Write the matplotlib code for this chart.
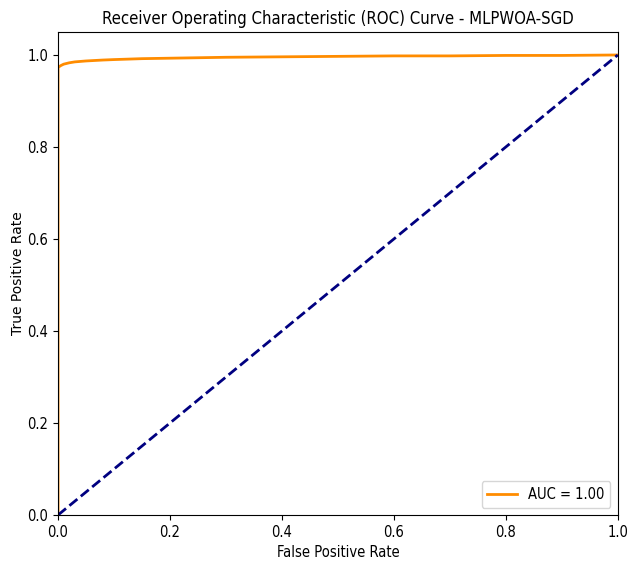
import matplotlib
matplotlib.use("Agg")
import matplotlib.pyplot as plt

# ROC points
fpr = [0.0, 0.0, 0.005, 0.01, 0.02, 0.03, 0.05, 0.08, 0.1, 0.15, 0.2, 0.3,
       0.4, 0.5, 0.6, 0.7, 0.8, 0.9, 1.0]
tpr = [0.0, 0.973, 0.977, 0.980, 0.983, 0.985, 0.987, 0.989, 0.990, 0.992,
       0.993, 0.995, 0.996, 0.997, 0.998, 0.998, 0.999, 0.999, 1.0]
diag = [0.0, 1.0]
auc_label = 'AUC = 1.00'
title = 'Receiver Operating Characteristic (ROC) Curve - MLPWOA-SGD'

plt.rcParams['font.family'] = ['DejaVu Sans']
plt.rcParams['font.stretch'] = 'condensed'

fig, ax = plt.subplots(figsize=(6.31, 5.61), dpi=100)
fig.subplots_adjust(left=0.092, right=0.979, top=0.943, bottom=0.082)

ax.plot(fpr, tpr, color='darkorange', lw=2, label=auc_label)
ax.plot(diag, diag, color='navy', lw=2, linestyle='--')
ax.set_xlim(0.0, 1.0)
ax.set_ylim(0.0, 1.05)
ax.set_xlabel('False Positive Rate', fontsize=10.5)
ax.set_ylabel('True Positive Rate', fontsize=10, fontstretch='normal',
              labelpad=2)
ax.set_title(title, fontsize=12)
ax.tick_params(labelsize=10.5)
ax.legend(loc='lower right', fontsize=10.5)

fig.savefig('out.png', dpi=100)
